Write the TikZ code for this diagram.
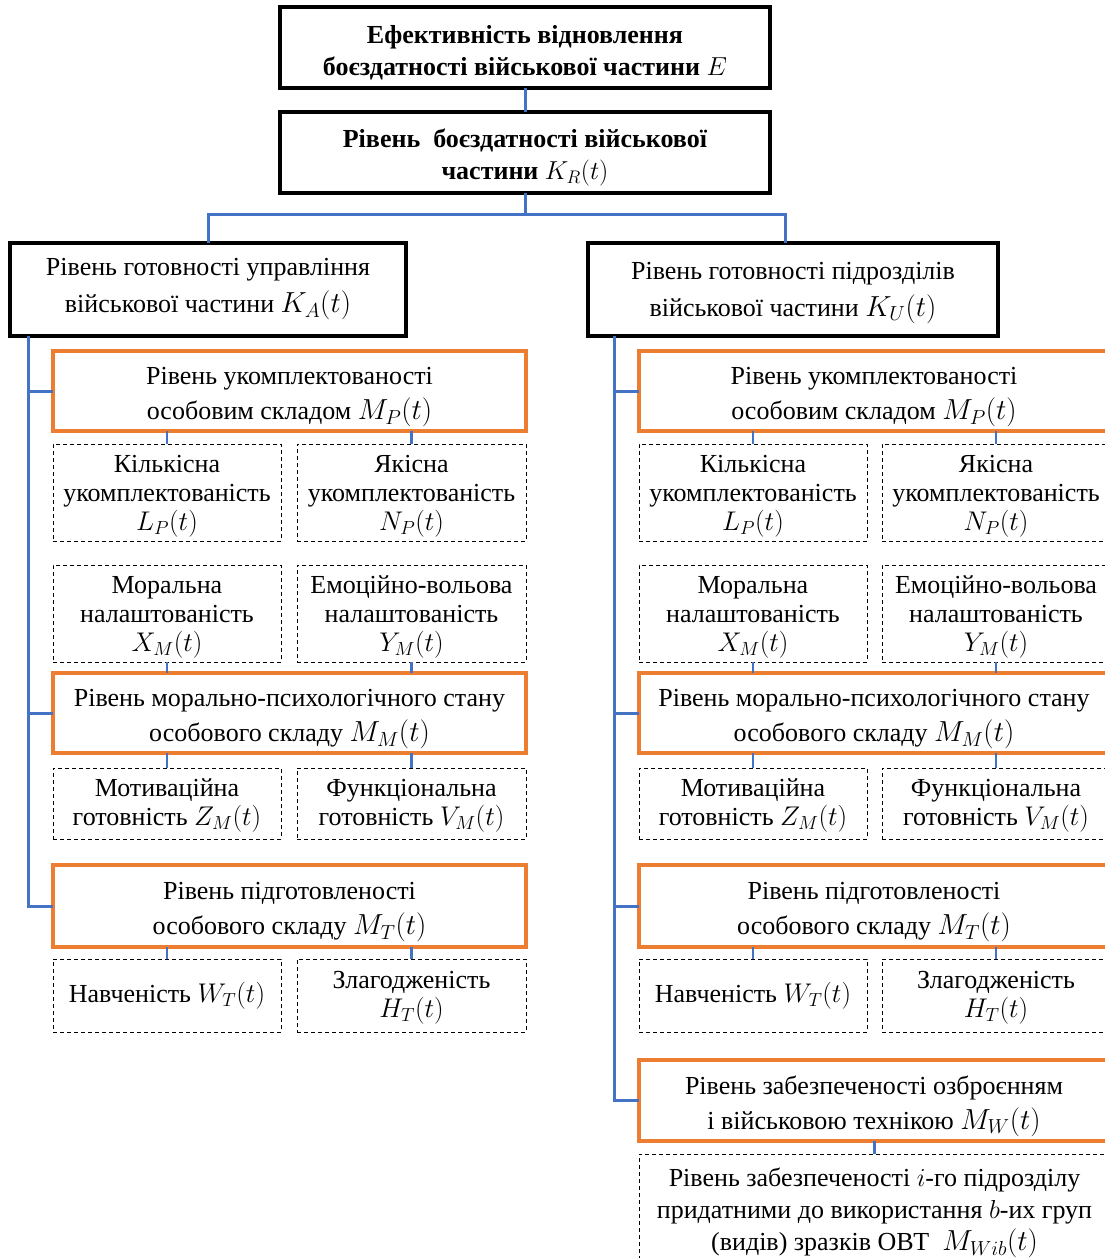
\RequirePackage{fix-cm}
\documentclass[tikz,border=0pt]{standalone}
\usepackage{fontspec}
\newfontfamily\trm{Liberation Serif}
\usetikzlibrary{calc}
\definecolor{obl}{HTML}{4472C4}
\definecolor{oor}{HTML}{ED7D31}
\newcommand\mBig[1]{{\fontsize{29}{29}\selectfont$#1$}}
\newcommand\mMid[1]{{\fontsize{29}{29}\selectfont$#1$}}
\newcommand\mSm[1]{{\fontsize{27}{27}\selectfont$#1$}}
\newcommand\dn[1]{\rule{0pt}{#1}}
\tikzset{
  box/.style={inner sep=0pt, outer sep=0pt, align=center, font=\trm\fontsize{26}{29}\selectfont},
  topbox/.style={box, draw=black, line width=4.5pt, font=\trm\fontsize{26}{32}\selectfont},
  mainbox/.style={box, draw=black, line width=3.5pt},
  obox/.style={box, draw=oor, line width=3.5pt},
  dbox/.style={box, draw=black, line width=0.9pt, dash pattern=on 4pt off 3pt},
  conn/.style={draw=obl, line width=3pt},
  stub/.style={draw=obl, line width=2.5pt},
}
\begin{document}
\begin{tikzpicture}[x=1pt,y=-1pt]
\useasboundingbox (0,0) rectangle (1105,1258);
\clip (0,0) rectangle (1105,1258);
% top
\node[topbox, minimum width=490pt, minimum height=81pt] (E) at (525,47.5)
  {\dn{28pt}\textbf{Ефективність відновлення}\\\textbf{боєздатності військової частини} $E$};
\node[topbox, minimum width=490pt, minimum height=81pt] (KR) at (525,152.5)
  {\dn{28pt}\textbf{Рівень\ \ боєздатності військової}\\\textbf{частини} $K_R(t)$};
\node[mainbox, minimum width=396pt, minimum height=93pt] (KA) at (208,289.5)
  {Рівень готовності управління\\[8pt]військової частини \mBig{K_A(t)}};
\node[mainbox, minimum width=410pt, minimum height=93pt] (KU) at (793,289.5)
  {\dn{24pt}Рівень готовності підрозділів\\[8pt]військової частини \mBig{K_U(t)}};
% left column
\node[obox, minimum width=473pt, minimum height=80pt] (LMP) at (289.5,391)
  {\dn{30pt}Рівень укомплектованості\\[6pt]особовим складом \mMid{M_P(t)}};
\node[dbox, minimum width=228pt, minimum height=97pt] (L11) at (167,492.5)
  {\dn{24pt}Кількісна\\укомплектованість\\\mSm{L_P(t)}};
\node[dbox, minimum width=229pt, minimum height=97pt] (L12) at (411.5,492.5)
  {\dn{24pt}Якісна\\укомплектованість\\\mSm{N_P(t)}};
\node[dbox, minimum width=228pt, minimum height=97pt] (L21) at (167,613.5)
  {\dn{24pt}Моральна\\налаштованість\\\mSm{X_M(t)}};
\node[dbox, minimum width=229pt, minimum height=97pt] (L22) at (411.5,613.5)
  {\dn{24pt}Емоційно-вольова\\налаштованість\\\mSm{Y_M(t)}};
\node[obox, minimum width=473pt, minimum height=80pt] (LMM) at (289.5,713)
  {\dn{30pt}Рівень морально-психологічного стану\\[6pt]особового складу \mMid{M_M(t)}};
\node[dbox, minimum width=228pt, minimum height=71pt] (L31) at (167,803.5)
  {\dn{22pt}Мотиваційна\\готовність \mSm{Z_M(t)}};
\node[dbox, minimum width=229pt, minimum height=71pt] (L32) at (411.5,803.5)
  {\dn{22pt}Функціональна\\готовність \mSm{V_M(t)}};
\node[obox, minimum width=473pt, minimum height=82pt] (LMT) at (289.5,906)
  {\dn{30pt}Рівень підготовленості\\[6pt]особового складу \mMid{M_T(t)}};
\node[dbox, minimum width=228pt, minimum height=73pt] (L41) at (167,995.5)
  {Навченість \mSm{W_T(t)}};
\node[dbox, minimum width=229pt, minimum height=73pt] (L42) at (411.5,995.5)
  {\dn{22pt}Злагодженість\\\mSm{H_T(t)}};
% right column
\node[obox, minimum width=470pt, minimum height=80pt] (RMP) at (874,391)
  {\dn{30pt}Рівень укомплектованості\\[6pt]особовим складом \mMid{M_P(t)}};
\node[dbox, minimum width=228pt, minimum height=97pt] (R11) at (753,492.5)
  {\dn{24pt}Кількісна\\укомплектованість\\\mSm{L_P(t)}};
\node[dbox, minimum width=228pt, minimum height=97pt] (R12) at (996,492.5)
  {\dn{24pt}Якісна\\укомплектованість\\\mSm{N_P(t)}};
\node[dbox, minimum width=228pt, minimum height=97pt] (R21) at (753,613.5)
  {\dn{24pt}Моральна\\налаштованість\\\mSm{X_M(t)}};
\node[dbox, minimum width=228pt, minimum height=97pt] (R22) at (996,613.5)
  {\dn{24pt}Емоційно-вольова\\налаштованість\\\mSm{Y_M(t)}};
\node[obox, minimum width=470pt, minimum height=80pt] (RMM) at (874,713)
  {\dn{30pt}Рівень морально-психологічного стану\\[6pt]особового складу \mMid{M_M(t)}};
\node[dbox, minimum width=228pt, minimum height=71pt] (R31) at (753,803.5)
  {\dn{22pt}Мотиваційна\\готовність \mSm{Z_M(t)}};
\node[dbox, minimum width=228pt, minimum height=71pt] (R32) at (996,803.5)
  {\dn{22pt}Функціональна\\готовність \mSm{V_M(t)}};
\node[obox, minimum width=470pt, minimum height=82pt] (RMT) at (874,906)
  {\dn{30pt}Рівень підготовленості\\[6pt]особового складу \mMid{M_T(t)}};
\node[dbox, minimum width=228pt, minimum height=73pt] (R41) at (753,995.5)
  {Навченість \mSm{W_T(t)}};
\node[dbox, minimum width=228pt, minimum height=73pt] (R42) at (996,995.5)
  {\dn{22pt}Злагодженість\\\mSm{H_T(t)}};
\node[obox, minimum width=470pt, minimum height=81pt] (RMW) at (874,1100.5)
  {\dn{30pt}Рівень забезпеченості озброєнням\\[6pt]і військовою технікою \mMid{M_W(t)}};
\node[dbox, minimum width=471pt, minimum height=118pt, font=\trm\fontsize{26}{32}\selectfont] (RB) at (874.5,1213)
  {Рівень забезпеченості $i$-го підрозділу\\придатними до використання $b$-их груп\\(видів) зразків ОВТ\ \ \mMid{M_{Wib}(t)}};
% connectors
\coordinate (la) at (28,0);
\coordinate (ra) at (614,0);
\coordinate (hb) at (0,214);
\coordinate (kux) at (785,0);
\draw[conn] (E) -- (KR);
\draw[conn] (KR.south) -- (KR.south |- hb) -| (KA.north);
\draw[conn] (KR.south |- hb) -| (KU.north -| kux);
\draw[conn] (KA.south -| la) |- (LMT.west);
\draw[conn] (LMP.west -| la) -- (LMP.west);
\draw[conn] (LMM.west -| la) -- (LMM.west);
\draw[conn] (KU.south -| ra) |- (RMW.west);
\draw[conn] (RMP.west -| ra) -- (RMP.west);
\draw[conn] (RMM.west -| ra) -- (RMM.west);
\draw[conn] (RMT.west -| ra) -- (RMT.west);
\foreach \a/\b in {L11/LMP,L12/LMP,R11/RMP,R12/RMP,L41/LMT,L42/LMT,R41/RMT,R42/RMT,RB/RMW}
  \draw[stub] (\a.north) -- (\a.north |- \b.south);
\foreach \a/\b in {L21/LMM,L22/LMM,R21/RMM,R22/RMM}
  \draw[stub] (\a.south) -- (\a.south |- \b.north);
\foreach \a/\b in {L31/LMM,L32/LMM,R31/RMM,R32/RMM}
  \draw[stub] (\a.north) -- (\a.north |- \b.south);
\end{tikzpicture}
\end{document}
